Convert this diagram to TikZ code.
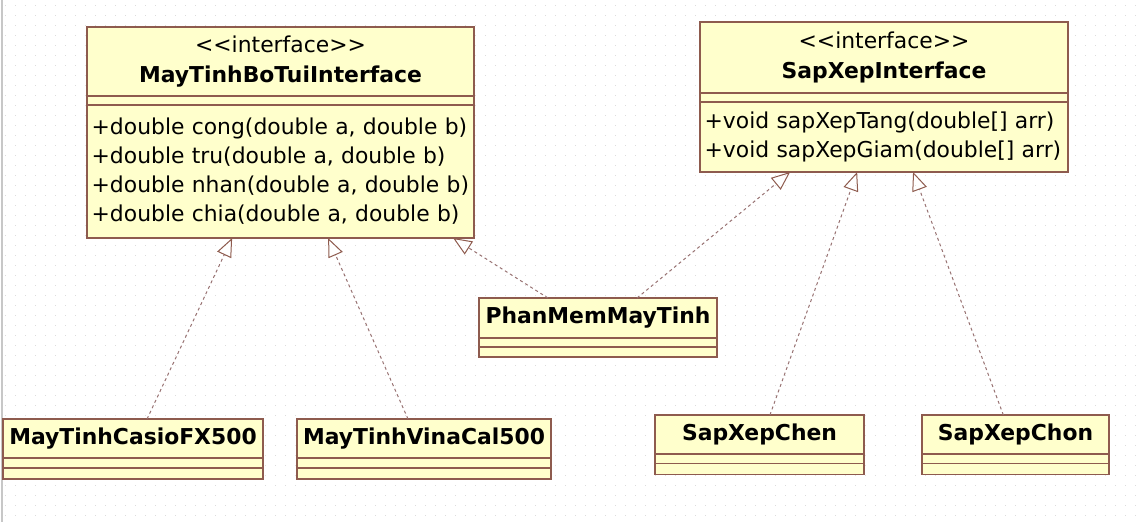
\documentclass[tikz,border=0pt]{standalone}
\usepackage{fontspec}
\usepackage{tikz}
\usetikzlibrary{arrows.meta,positioning,calc}
\newfontfamily\umlfont{DejaVu Sans}
\definecolor{umlfill}{HTML}{FFFFCC}
\definecolor{umlbr}{HTML}{8E5B4E}
\definecolor{umlln}{HTML}{987272}
\definecolor{umlgrid}{HTML}{DCDCDC}

\begin{document}
\begin{tikzpicture}[
  x=0.75pt,y=-0.75pt,
  font=\umlfont\fontsize{16.4}{22.5}\selectfont,
  node distance=0pt,
  part/.style={draw=umlbr,fill=umlfill,line width=0.9pt,outer sep=0pt,inner sep=0pt},
  head/.style={part,align=center,anchor=north west},
  blank/.style={part,minimum height=#1},
  ops/.style={part,align=left,inner xsep=3.5pt,minimum height=#1,
              font=\umlfont\fontsize{16.4}{21.75}\selectfont},
  real/.style={umlln,line width=0.75pt,dash pattern=on 2.25pt off 2.25pt,
               -{Triangle[open,length=14pt,width=11.5pt,color=umlbr]}}
]
\useasboundingbox (0,0) rectangle (1136,522);
\fill[white] (0,0) rectangle (1136,522);
\foreach \gy in {5,15,...,515}
  \draw[umlgrid,line width=0.75pt,dash pattern=on 0.75pt off 6.75pt] (5,\gy) -- (1136,\gy);
\draw[black!22,line width=1.5pt] (2,0) -- (2,522);

\node[head,minimum width=290.25pt,minimum height=51.75pt] (ifcal) at (87,27)
  {<<interface>>\\\textbf{MayTinhBoTuiInterface}};
\node[blank=6.75pt,minimum width=290.25pt,below=of ifcal] (ifcalat) {};
\node[ops=99.75pt,text width=283.25pt,below=of ifcalat] (ifcalop)
  {+double cong(double a, double b)\\+double tru(double a, double b)\\
   +double nhan(double a, double b)\\+double chia(double a, double b)};

\node[head,minimum width=276pt,minimum height=53.25pt] (ifsort) at (700,22)
  {<<interface>>\\\textbf{SapXepInterface}};
\node[blank=6.75pt,minimum width=276pt,below=of ifsort] (ifsortat) {};
\node[ops=52.5pt,text width=269pt,below=of ifsortat] (ifsortop)
  {+void sapXepTang(double[] arr)\\+void sapXepGiam(double[] arr)};

\node[head,minimum width=178.5pt,minimum height=30pt] (app) at (479,298)
  {\textbf{PhanMemMayTinh}};
\node[blank=6.75pt,minimum width=178.5pt,below=of app] (appat) {};
\node[blank=7.5pt,minimum width=178.5pt,below=of appat] (appop) {};

\node[head,minimum width=195pt,minimum height=29.25pt] (casio) at (3,419)
  {\textbf{MayTinhCasioFX500}};
\node[blank=7.5pt,minimum width=195pt,below=of casio] (casioat) {};
\node[blank=8.25pt,minimum width=195pt,below=of casioat] (casioop) {};

\node[head,minimum width=190.5pt,minimum height=29.25pt] (vina) at (297,419)
  {\textbf{MayTinhVinaCal500}};
\node[blank=7.5pt,minimum width=190.5pt,below=of vina] (vinaat) {};
\node[blank=8.25pt,minimum width=190.5pt,below=of vinaat] (vinaop) {};

\node[head,minimum width=156.75pt,minimum height=29.25pt] (chen) at (655,415)
  {\textbf{SapXepChen}};
\node[blank=7pt,minimum width=156.75pt,below=of chen] (chenat) {};
\node[blank=8.25pt,minimum width=156.75pt,below=of chenat] (chenop) {};

\node[head,minimum width=140.25pt,minimum height=29.25pt] (chon) at (922,415)
  {\textbf{SapXepChon}};
\node[blank=7pt,minimum width=140.25pt,below=of chon] (chonat) {};
\node[blank=8.25pt,minimum width=140.25pt,below=of chonat] (chonop) {};

\draw[real] ($(casio.north west)!0.554!(casio.north east)$) -- ($(ifcalop.south west)!0.375!(ifcalop.south east)$);
\draw[real] ($(vina.north west)!0.437!(vina.north east)$) -- ($(ifcalop.south west)!0.623!(ifcalop.south east)$);
\draw[real] ($(app.north west)!0.29!(app.north east)$) -- ($(ifcalop.south west)!0.946!(ifcalop.south east)$);
\draw[real] ($(app.north west)!0.664!(app.north east)$) -- ($(ifsortop.south west)!0.245!(ifsortop.south east)$);
\draw[real] ($(chen.north west)!0.55!(chen.north east)$) -- ($(ifsortop.south west)!0.427!(ifsortop.south east)$);
\draw[real] ($(chon.north west)!0.435!(chon.north east)$) -- ($(ifsortop.south west)!0.579!(ifsortop.south east)$);
\end{tikzpicture}
\end{document}
